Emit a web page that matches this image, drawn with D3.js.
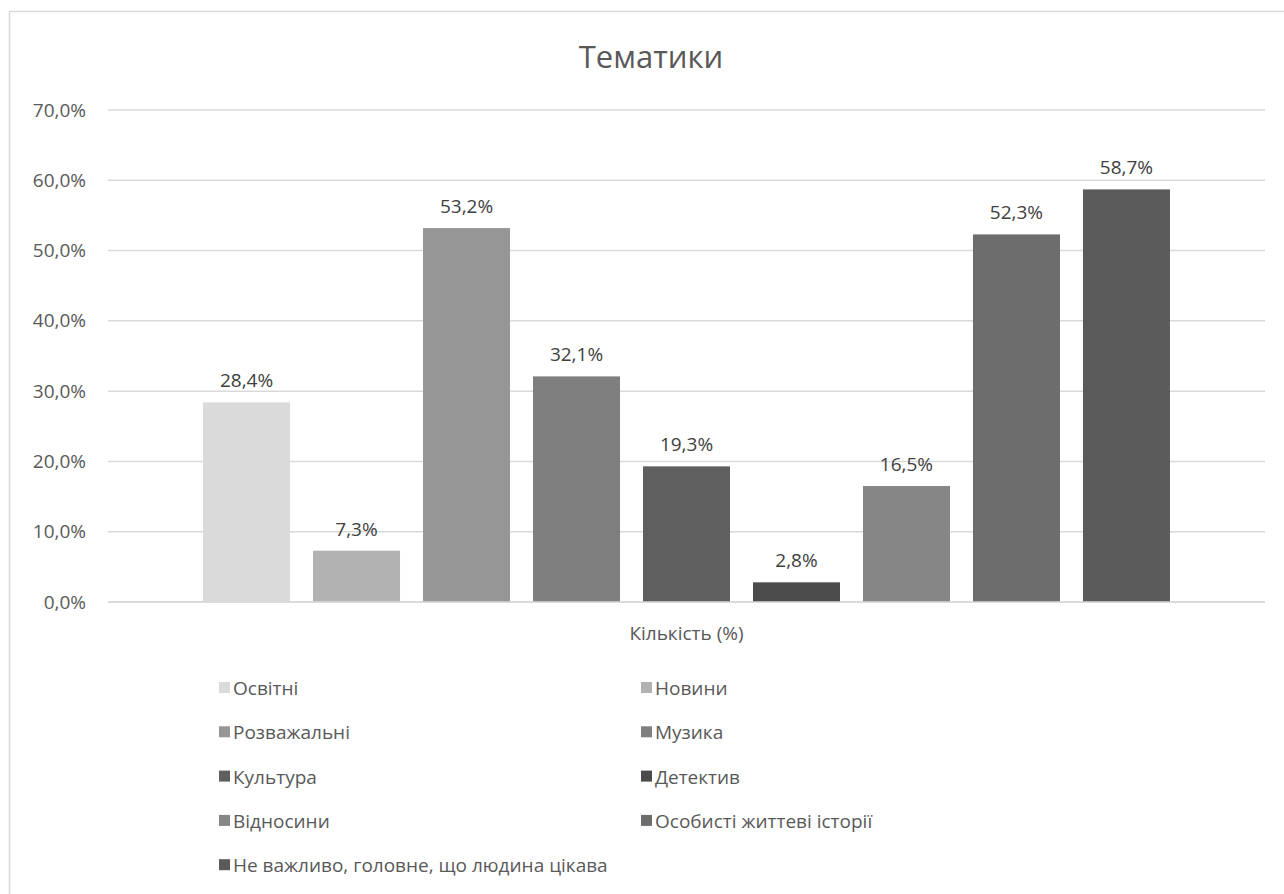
<!DOCTYPE html>
<html lang="uk">
<head>
<meta charset="utf-8">
<script src="https://cdn.jsdelivr.net/npm/d3@7"></script>
<style>
  html, body { margin: 0; padding: 0; background: #fff; }
  svg { display: block; font-family: "Open Sans", "Noto Sans", sans-serif; }
</style>
</head>
<body>
<svg id="chart" width="1284" height="894"></svg>
<script>
// Topic categories (one series each, single category group)
const categories = [
  "Освітні", "Новини", "Розважальні", "Музика", "Культура",
  "Детектив", "Відносини", "Особисті життеві історії",
  "Не важливо, головне, що людина цікава"
];
// Share of respondents, %
const values = [28.4, 7.3, 53.2, 32.1, 19.3, 2.8, 16.5, 52.3, 58.7];
const colors = [
  "#dadada", "#b2b2b2", "#969696", "#7f7f7f", "#5f5f5f",
  "#4b4b4b", "#868686", "#6d6d6d", "#5a5a5a"
];
const yTicks = [0, 10, 20, 30, 40, 50, 60, 70];
const title = "Тематики";
const groupLabel = "Кількість (%)";

const fmt = v => v.toFixed(1).replace(".", ",") + "%";
const textColor = "#595959";
const fontSize = "19px";

const svg = d3.select("#chart");

// chart area frame
svg.append("rect")
  .attr("x", 9.5).attr("y", 11.5)
  .attr("width", 1320).attr("height", 920)
  .attr("fill", "#fff")
  .attr("stroke", "#d9d9d9").attr("stroke-width", 1.5);

const plot = { left: 108, right: 1265, top: 110, bottom: 602 };

const y = d3.scaleLinear().domain([0, 70]).range([plot.bottom, plot.top]);
const x = d3.scaleBand()
  .domain(categories)
  .range([plot.left, plot.right])
  .paddingInner(0.209)
  .paddingOuter(0.864);

// gridlines
svg.append("g")
  .selectAll("line")
  .data(yTicks)
  .join("line")
  .attr("x1", plot.left).attr("x2", plot.right)
  .attr("y1", d => y(d)).attr("y2", d => y(d))
  .attr("stroke", "#d9d9d9").attr("stroke-width", 1.5);

// y axis labels
const yAxis = d3.axisLeft(y).tickValues(yTicks).tickSize(0).tickPadding(0)
  .tickFormat(d => d.toFixed(1).replace(".", ",") + "%");
const yG = svg.append("g").attr("transform", `translate(86,0)`).call(yAxis);
yG.select(".domain").remove();
yG.selectAll("text")
  .attr("fill", textColor)
  .style("font-size", fontSize)
  .style("font-family", "'Open Sans', sans-serif");

// bars
svg.append("g")
  .selectAll("rect")
  .data(values)
  .join("rect")
  .attr("x", (d, i) => x(categories[i]))
  .attr("width", x.bandwidth())
  .attr("y", d => y(d))
  .attr("height", d => y(0) - y(d))
  .attr("fill", (d, i) => colors[i]);

// value labels
svg.append("g")
  .selectAll("text")
  .data(values)
  .join("text")
  .attr("x", (d, i) => x(categories[i]) + x.bandwidth() / 2)
  .attr("y", d => y(d) - 15)
  .attr("text-anchor", "middle")
  .attr("fill", "#404040")
  .style("font-size", fontSize)
  .text(d => fmt(d));

// baseline drawn over bars
svg.append("line")
  .attr("x1", plot.left).attr("x2", plot.right)
  .attr("y1", y(0)).attr("y2", y(0))
  .attr("stroke", "#d9d9d9").attr("stroke-width", 1.5);

// category group label
svg.append("text")
  .attr("x", (plot.left + plot.right) / 2)
  .attr("y", 640)
  .attr("text-anchor", "middle")
  .attr("fill", textColor)
  .style("font-size", fontSize)
  .text(groupLabel);

// title
svg.append("text")
  .attr("x", 651)
  .attr("y", 68)
  .attr("text-anchor", "middle")
  .attr("fill", textColor)
  .style("font-size", "31px")
  .text(title);

// legend: two columns
const legend = svg.append("g");
const colX = [219, 641];
const rowY0 = 688, rowStep = 44.3;
const item = legend.selectAll("g")
  .data(categories)
  .join("g")
  .attr("transform", (d, i) => `translate(${colX[i % 2]},${rowY0 + Math.floor(i / 2) * rowStep})`);
item.append("rect")
  .attr("x", 0).attr("y", -6)
  .attr("width", 11).attr("height", 11)
  .attr("fill", (d, i) => colors[i]);
item.append("text")
  .attr("x", 14).attr("y", 7)
  .attr("fill", textColor)
  .style("font-size", fontSize)
  .text(d => d);
</script>
</body>
</html>
